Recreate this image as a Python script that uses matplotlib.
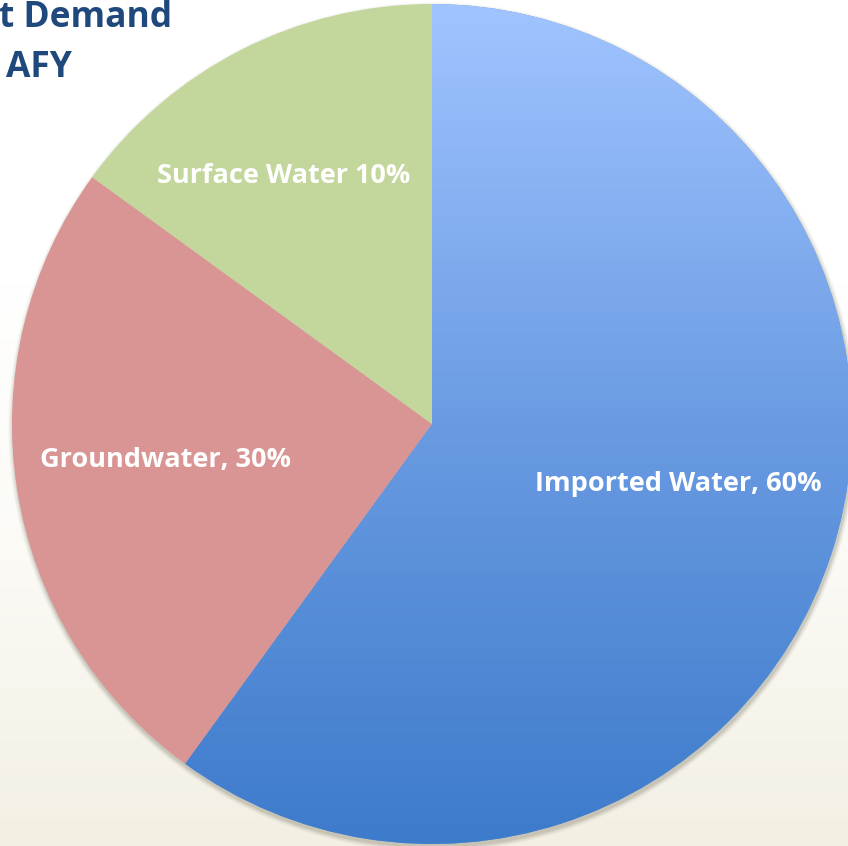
import numpy as np
import matplotlib.pyplot as plt
from matplotlib.colors import LinearSegmentedColormap

# slice sizes as drawn; label text as printed on the chart
sources = ["Imported Water", "Groundwater", "Surface Water"]
shares = [60, 25, 15]
labels = ["Imported Water, 60%", "Groundwater, 30%", "Surface Water 10%"]
title_lines = ["t Demand", "AFY"]

W, H = 848, 846
fig = plt.figure(figsize=(W / 100, H / 100), dpi=100)
ax = fig.add_axes([0, 0, 1, 1])
ax.set_xlim(0, W)
ax.set_ylim(0, H)
ax.axis("off")

# background: white fading to cream at the bottom
bg = LinearSegmentedColormap.from_list("bg", ["#F3EFE3", "#FBFAF5", "#FFFFFF", "#FFFFFF"])
ax.imshow(np.linspace(0, 1, 256).reshape(-1, 1), cmap=bg, extent=[0, W, 0, H],
          origin="lower", aspect="auto", zorder=0)

cx, cy, r = 432, 422, 420

# soft shadow under the pie
for k, a in zip(range(6, 0, -1), [0.03, 0.04, 0.05, 0.06, 0.08, 0.10]):
    ax.add_patch(plt.Circle((cx + 1, cy - 3), r + k * 0.8, color="#6b6b55", alpha=a,
                            lw=0, zorder=1))

colors = ["#6A9BE2", "#D99594", "#C3D69B"]
wedges, _ = ax.pie(shares, colors=colors, startangle=90, counterclock=False,
                   center=(cx, cy), radius=r, frame=True,
                   wedgeprops=dict(linewidth=0))
ax.set_xlim(0, W)
ax.set_ylim(0, H)
ax.axis("off")
for w in wedges:
    w.set_zorder(2)

# vertical gradient on the imported water slice
blue = LinearSegmentedColormap.from_list("blue", ["#3D7BCB", "#6A9BE2", "#A0C4FF"])
grad = ax.imshow(np.linspace(0, 1, 256).reshape(-1, 1), cmap=blue,
                 extent=[cx - r, cx + r, cy - r, cy + r], origin="lower",
                 aspect="auto", zorder=3)
grad.set_clip_path(wedges[0])

font = dict(family=["Open Sans", "DejaVu Sans"], weight="bold", color="white",
            fontsize=19.5, zorder=5)
ax.text(678, H - 484, labels[0], ha="center", va="center", **font)
ax.text(166, H - 460, labels[1], ha="center", va="center", **font)
ax.text(284, H - 176, labels[2], ha="center", va="center", **font)

tfont = dict(family=["Open Sans", "DejaVu Sans"], weight="bold", color="#1F497D",
             fontsize=25.5, zorder=5)
ax.text(-1, H - 18, title_lines[0], ha="left", va="center", **tfont)
ax.text(6, H - 68, title_lines[1], ha="left", va="center", **tfont)

fig.savefig("out.png", dpi=100)
